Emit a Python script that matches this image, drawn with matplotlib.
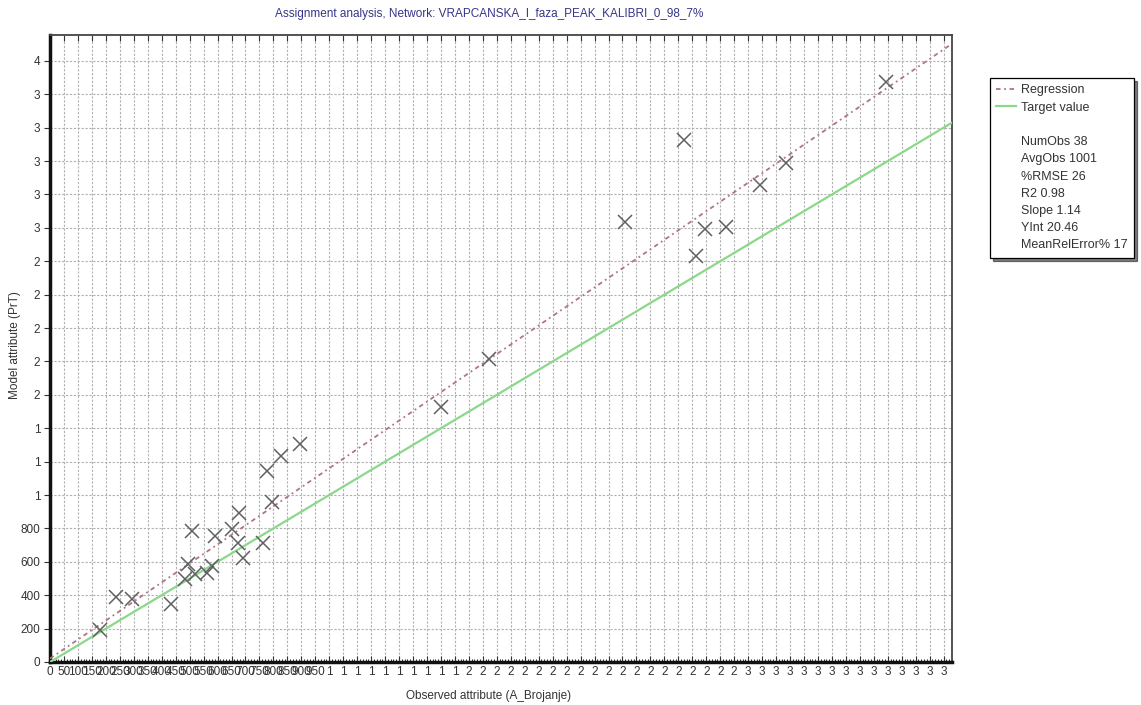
import matplotlib
matplotlib.use("Agg")
import matplotlib.pyplot as plt
import numpy as np
from matplotlib.lines import Line2D
from matplotlib.ticker import MultipleLocator, FuncFormatter

plt.rcParams['font.family'] = ['Liberation Sans', 'DejaVu Sans']

# observed (A_Brojanje) vs model (PrT)
observed = [178, 235, 292, 435, 485, 494, 509, 521, 562, 580, 590, 650, 676, 673, 690,
            762, 777, 795, 827, 896, 1400, 1572, 2060, 2270, 2314, 2346, 2422, 2541, 2634, 2994]
model = [192, 387, 379, 345, 495, 587, 786, 527, 535, 575, 756, 796, 894, 714, 621,
         711, 1146, 960, 1234, 1304, 1529, 1814, 2633, 3126, 2431, 2591, 2603, 2856, 2990, 3475]

slope = 1.14
yint = 20.46
stats = ["NumObs 38", "AvgObs 1001", "%RMSE 26", "R2 0.98", "Slope 1.14", "YInt 20.46",
         "MeanRelError% 17"]

xmax = 3230
ymax = 3755

fig = plt.figure(figsize=(11.41, 7.05), dpi=100)
ax = fig.add_axes([50/1141, 1-662/705, (952-50)/1141, (662-35)/705])

reg_style = dict(color='#b07585', lw=1.3, ls=(0, (2.5, 2, 1, 2)))
xs = np.array([0, xmax])
ax.plot(xs, slope*xs + yint, zorder=3, **reg_style)
ax.plot(xs, xs, color='#8ad88a', lw=1.6, zorder=3)
ax.plot(observed, model, ls='none', marker='x', color='#606060', ms=10, mew=1.1, zorder=4)

ax.set_xlim(0, xmax)
ax.set_ylim(0, ymax)

ax.xaxis.set_major_locator(MultipleLocator(50))
ax.xaxis.set_minor_locator(MultipleLocator(10))
ax.yaxis.set_major_locator(MultipleLocator(200))


def short(v, pos):
    # the original chart squeezes thousands down to one digit
    v = int(round(v))
    if v < 1000:
        return str(v)
    return str(int(v/1000 + 0.5))


ax.xaxis.set_major_formatter(FuncFormatter(short))
ax.yaxis.set_major_formatter(FuncFormatter(short))
ax.tick_params(axis='both', labelsize=8.5, colors='#333333', length=4, width=0.8)
ax.tick_params(axis='x', which='major', direction='in', top=True, length=4, pad=3)
ax.tick_params(axis='x', which='minor', direction='in', length=2, width=0.6)
ax.tick_params(axis='y', which='major', direction='out', length=4, pad=3)

ax.grid(True, which='major', color='#b0b0b0', ls=(0, (2, 1.5)), lw=0.8)
ax.set_axisbelow(True)

for side in ['left', 'bottom']:
    ax.spines[side].set_linewidth(2.5)
    ax.spines[side].set_color('#111111')
for side in ['top', 'right']:
    ax.spines[side].set_linewidth(1.3)
    ax.spines[side].set_color('#444444')

ax.set_xlabel("Observed attribute (A_Brojanje)", fontsize=8.5, color='#333333')
ax.set_ylabel("Model attribute (PrT)", fontsize=8.5, color='#333333')
ax.xaxis.set_label_coords((489-50)/902, -(690-662)/627)
ax.yaxis.set_label_coords((21-50)/902, (662-345)/627)
fig.text(489/1141, 1-14/705, "Assignment analysis, Network: VRAPCANSKA_I_faza_PEAK_KALIBRI_0_98_7%",
         ha='center', va='center', fontsize=8.5, color='#35358a')

handles = [Line2D([], [], **reg_style),
           Line2D([], [], color='#8ad88a', lw=1.6),
           Line2D([], [], color='none')]
labels = ["Regression", "Target value", " "]
for s in stats:
    handles.append(Line2D([], [], color='none'))
    labels.append(s)

leg = ax.legend(handles, labels, loc='upper left', bbox_to_anchor=(990/1141, 1-78/705),
                bbox_transform=fig.transFigure, fontsize=9, frameon=True, fancybox=False,
                borderaxespad=0, borderpad=0.5, labelspacing=0.42, handlelength=1.6,
                handletextpad=0.4, shadow={'color': 'black'})
leg.get_frame().set_edgecolor('black')
leg.get_frame().set_linewidth(0.9)
for t in leg.get_texts():
    t.set_color('#333333')

fig.savefig("out.png", dpi=100, facecolor='white')
